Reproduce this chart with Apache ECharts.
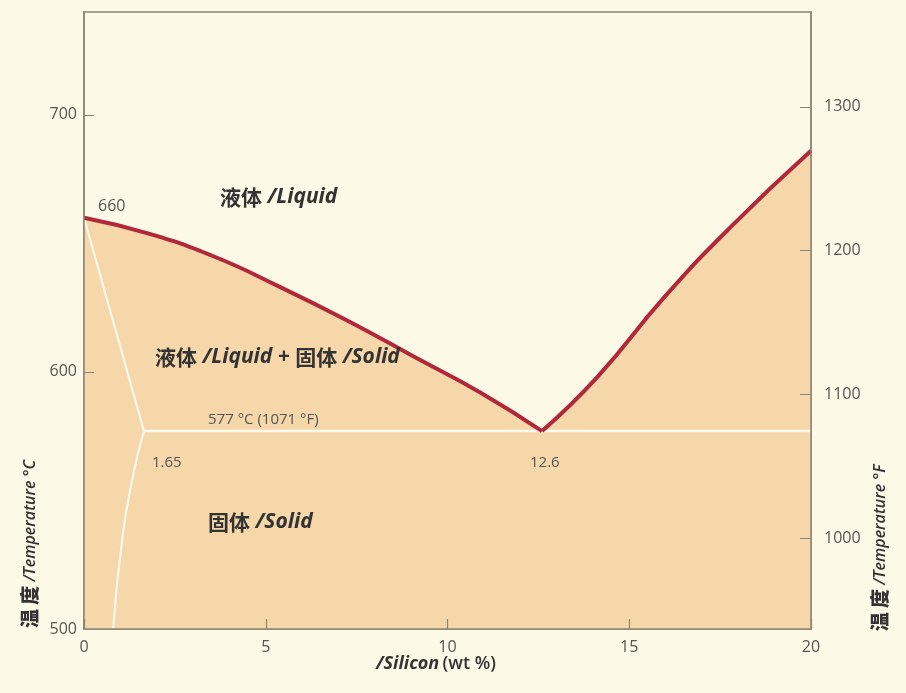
<!DOCTYPE html>
<html>
<head>
<meta charset="utf-8">
<script src="https://cdn.jsdelivr.net/npm/echarts@6/dist/echarts.min.js"></script>
<style>
  html, body { margin: 0; padding: 0; background: #fcf9e6; }
  #main { width: 906px; height: 693px; }
</style>
</head>
<body>
<div id="main"></div>
<script>
// liquidus, Al side (wt% Si, °C)
var liqLeftSi = [0, 1.73, 3.56, 5.4, 7.24, 9.07, 10.9, 12.6];
var liqLeftT = [660, 654, 645, 633, 620, 606, 592, 577];
// liquidus, Si side
var liqRightSi = [12.6, 14.12, 15.96, 17.8, 20];
var liqRightT = [577, 598, 629, 656.5, 686];
// solidus + solvus of the Al phase
var solidusSi = [0, 1.65];
var solidusT = [660, 577];
var solvusSi = [1.65, 1.4, 1.07, 0.8];
var solvusT = [577, 563, 537, 500];
// eutectic line
var eutSi = [1.65, 20];
var eutT = [577, 577];

var xTicks = [0, 5, 10, 15, 20];
var cTicks = [500, 600, 700];
var fTicks = [1000, 1100, 1200, 1300];

var FILL = '#f5d7aa';
var RED = '#b1283a';
var AXIS = '#8c8474';
var TXT = '#555';
var FONT = '"Open Sans", "Noto Sans", sans-serif';
var CJK = '"Noto Sans CJK SC", sans-serif';

function pts(xs, ys) {
  return xs.map(function (x, i) { return [x, ys[i]]; });
}

var chart = echarts.init(document.getElementById('main'));

var rich = {
  c: { fontFamily: CJK, fontWeight: 'bold', fontSize: 21, fill: '#333', color: '#333' },
  i: { fontFamily: FONT, fontWeight: 'bold', fontStyle: 'italic', fontSize: 21, fill: '#333', color: '#333' }
};

function label(x, y, text, size) {
  return {
    type: 'text', x: x, y: y, z: 100,
    style: {
      text: text, font: size + 'px ' + FONT, fill: TXT,
      textVerticalAlign: 'middle', verticalAlign: 'middle'
    }
  };
}

function richLabel(x, y, text) {
  return {
    type: 'text', x: x, y: y, z: 100,
    style: { text: text, rich: rich, verticalAlign: 'middle', textVerticalAlign: 'middle' }
  };
}

var axisRich = {
  c: { fontFamily: CJK, fontWeight: 900, fontSize: 19, fill: '#333', color: '#333' },
  i: { fontFamily: FONT, fontStyle: 'italic', fontWeight: 600, fontSize: 16, fill: '#333', color: '#333' }
};

function plain(v) { return String(v); }

var option = {
  backgroundColor: '#fcf9e6',
  animation: false,
  grid: {
    left: 84, right: 95, top: 12, bottom: 64,
    show: true, borderColor: AXIS, borderWidth: 1.5, backgroundColor: 'transparent'
  },
  xAxis: {
    type: 'value', min: 0, max: 20, interval: 5, z: 10,
    axisLine: { show: true, lineStyle: { color: AXIS, width: 1.5 } },
    axisTick: { show: true, inside: true, length: 10, lineStyle: { color: AXIS, width: 1.2 } },
    axisLabel: { color: TXT, fontSize: 16, fontFamily: FONT, margin: 10,
      customValues: xTicks, formatter: plain },
    splitLine: { show: false }
  },
  yAxis: [{
    type: 'value', min: 500, max: 740, position: 'left', z: 10,
    axisLine: { show: true, lineStyle: { color: AXIS, width: 1.5 } },
    axisTick: { show: true, inside: true, length: 10, lineStyle: { color: AXIS }, customValues: [600, 700] },
    axisLabel: { color: TXT, fontSize: 16, fontFamily: FONT, margin: 7, customValues: cTicks, formatter: plain },
    splitLine: { show: false }
  }, {
    type: 'value', min: 937, max: 1366, position: 'right', z: 10,
    axisLine: { show: true, lineStyle: { color: AXIS, width: 1.5 } },
    axisTick: { show: true, inside: true, length: 11, lineStyle: { color: AXIS }, customValues: fTicks },
    axisLabel: { color: TXT, fontSize: 16, fontFamily: FONT, margin: 13, customValues: fTicks, formatter: plain },
    splitLine: { show: false }
  }],
  series: [
    { type: 'line', data: pts(liqLeftSi, liqLeftT), smooth: true, symbol: 'none', z: 1,
      lineStyle: { width: 0 }, areaStyle: { color: FILL, opacity: 1, origin: 'start' } },
    { type: 'line', data: pts(liqRightSi, liqRightT), smooth: true, symbol: 'none', z: 1,
      lineStyle: { width: 0 }, areaStyle: { color: FILL, opacity: 1, origin: 'start' } },
    { type: 'line', data: pts(solidusSi, solidusT), symbol: 'none', z: 2,
      lineStyle: { color: '#fffaf0', width: 2 } },
    { type: 'line', data: pts(solvusSi, solvusT), smooth: true, symbol: 'none', z: 2,
      lineStyle: { color: '#fffaf0', width: 2 } },
    { type: 'line', data: pts(eutSi, eutT), symbol: 'none', z: 2,
      lineStyle: { color: '#fffaf0', width: 2.5 } },
    { type: 'line', data: pts(liqLeftSi, liqLeftT), smooth: true, symbol: 'none', z: 3,
      lineStyle: { color: RED, width: 4 } },
    { type: 'line', data: pts(liqRightSi, liqRightT), smooth: true, symbol: 'none', z: 3,
      lineStyle: { color: RED, width: 4 } }
  ],
  graphic: [
    label(98, 206, '660', 16),
    richLabel(220, 197, '{c|液体}{i| /Liquid}'),
    richLabel(155, 357, '{c|液体}{i| /Liquid + }{c|固体}{i| /Solid}'),
    label(208, 420, '577 °C (1071 °F)', 15),
    label(152, 463, '1.65', 15),
    label(530, 463, '12.6', 15),
    richLabel(208, 522, '{c|固体}{i| /Solid}'),
    {
      type: 'text', x: 376, y: 664, z: 100,
      style: {
        text: '{i|/Silicon} {n|(wt %)}', verticalAlign: 'middle', textVerticalAlign: 'middle',
        rich: {
          i: { fontFamily: FONT, fontWeight: 'bold', fontStyle: 'italic', fontSize: 18, fill: '#333', color: '#333' },
          n: { fontFamily: FONT, fontWeight: 600, fontSize: 18, fill: '#333', color: '#333' }
        }
      }
    },
    {
      type: 'text', x: 30, y: 544, rotation: Math.PI / 2, z: 100,
      style: { text: '{c|温 度}{i| /Temperature °C}', rich: axisRich,
        align: 'center', textAlign: 'center', verticalAlign: 'middle', textVerticalAlign: 'middle' }
    },
    {
      type: 'text', x: 880, y: 548, rotation: Math.PI / 2, z: 100,
      style: { text: '{c|温 度}{i| /Temperature °F}', rich: axisRich,
        align: 'center', textAlign: 'center', verticalAlign: 'middle', textVerticalAlign: 'middle' }
    }
  ]
};

chart.setOption(option);
</script>
</body>
</html>
